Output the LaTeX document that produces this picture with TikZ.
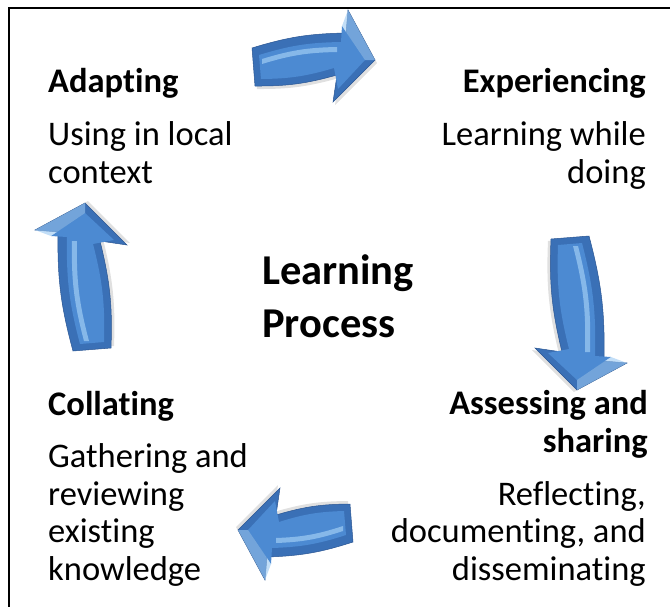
\documentclass[tikz,border=0pt]{standalone}
\usepackage{fontspec}
\setmainfont{Carlito}[Ligatures=NoCommon]
\usetikzlibrary{positioning}

\definecolor{arrowdark}{HTML}{2A5592}
\definecolor{arrowedge}{HTML}{3A70B6}
\definecolor{arrowface}{HTML}{4C8AD2}
\definecolor{arrowlight}{HTML}{9AC8F2}

\tikzset{
 pics/bentarrow/.style={code={
  \def\h{#1}
  % shadow
  \fill[black, opacity=0.12] (-\h+2,6) to[bend left=8] (\h-27,21) -- (\h-25,44) -- (\h+2,-6) -- (\h-40,-48) -- (\h-36,-21) to[bend left=8] (-\h+5,-32) -- cycle;
  % outer bevel
  \path[fill=arrowedge, draw=arrowdark, line width=0.5pt] (-\h,9) to[bend left=8] (\h-29,24) -- (\h-27,47) -- (\h,-3) -- (\h-42,-45) -- (\h-38,-18) to[bend left=8] (-\h+3,-29) -- cycle;
  % inner face
  \fill[arrowface] (-\h+7,2) to[bend left=8] (\h-34,15) -- (\h-33,31) -- (\h-10,-3) -- (\h-37,-32) -- (\h-41,-11) to[bend left=8] (-\h+9,-22) -- cycle;
  % highlight
  \fill[arrowlight, opacity=0.75] (-\h+10,-2) to[bend left=8] (\h-38,10) -- (\h-38,5) to[bend right=8] (-\h+10,-7) -- cycle;
  \fill[arrowlight, opacity=0.6] (\h-27,47) -- (\h,-3) -- (\h-10,-3) -- (\h-33,31) -- cycle;
 }}
}

\begin{document}
\begin{tikzpicture}[
 x=1pt, y=1pt,
 heading/.style={inner sep=0pt, font=\bfseries\fontsize{34.5}{37.5}\selectfont},
 body/.style={inner sep=0pt, font=\fontsize{34.5}{37.5}\selectfont},
 title/.style={inner sep=0pt, align=left, font=\bfseries\fontsize{42.5}{53}\selectfont},
 frameline/.style={line width=2pt, black}
 ]

  \useasboundingbox (0,0) rectangle (670,-606);

  % Frame (only top and left edges are in view)
  \coordinate (frame_nw) at (9,-8);
  \coordinate (frame_ne) at (700,-8);
  \coordinate (frame_sw) at (9,-640);
  \draw[frameline] (frame_ne) -- (frame_nw) -- (frame_sw);

  % Centre title (base = last line)
  \node[title, anchor=base west] at (262,-337) (learning) {Learning\\Process};

  % Top left block
  \node[heading, anchor=base west] at (48,-92) (adapting) {Adapting};
  \node[body, anchor=base west, align=left] at (48,-183) (adapting_txt) {Using in local\\context};

  % Top right block
  \node[heading, anchor=base east] at (646,-92) (experiencing) {Experiencing};
  \node[body, anchor=base east, align=right] at (646,-183) (experiencing_txt) {Learning while\\doing};

  % Bottom right block
  \node[heading, anchor=base east, align=right] at (648,-452) (assessing) {Assessing and\\sharing};
  \node[body, anchor=base east, align=right] at (646,-580) (assessing_txt) {Reflecting,\\documenting, and\\disseminating};

  % Bottom left block
  \node[heading, anchor=base west] at (48,-415) (collating) {Collating};
  \node[body, anchor=base west, align=left] at (48,-580) (collating_txt) {Gathering and\\reviewing\\existing\\knowledge};

  % Arrows round the cycle
  \pic at (313.5,-57) {bentarrow=61.5};
  \pic[rotate=-90] at (580,-313) {bentarrow=77};
  \pic[rotate=180] at (295.5,-533) {bentarrow=57.5};
  \pic[rotate=90] at (82,-277) {bentarrow=74};

\end{tikzpicture}
\end{document}
